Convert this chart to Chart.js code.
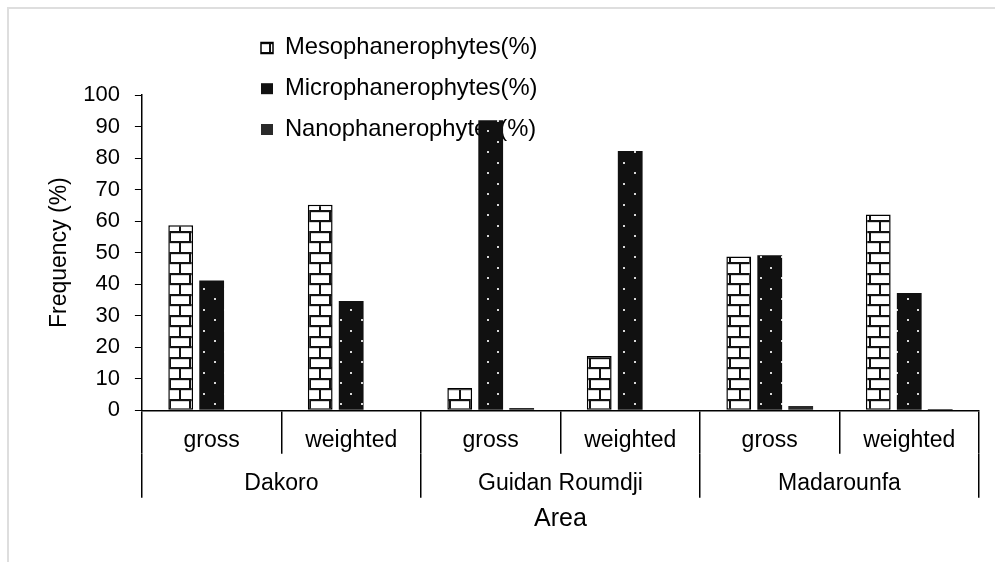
<html>
  <head>
    <script src="https://cdn.jsdelivr.net/npm/chart.js@4.4.1/dist/chart.umd.min.js"></script>
    <style>
      body { margin: 0; background: #fff; overflow: hidden; }
      #wrap { position: relative; width: 995px; height: 562px; }
    </style>
  </head>
  <body>
    <div id="wrap">
      <canvas id="myChart"></canvas>
    </div>
  </body>
  <script>
    const groups = ['Dakoro', 'Guidan Roumdji', 'Madarounfa'];
    const subLabels = ['gross', 'weighted', 'gross', 'weighted', 'gross', 'weighted'];
    const meso = [58.7, 65.2, 7.1, 17.2, 48.8, 62.1];
    const micro = [41.2, 34.7, 92.0, 82.2, 49.2, 37.2];
    const nano = [0, 0, 0.7, 0, 1.4, 0.4];
    const yTicks = [0, 10, 20, 30, 40, 50, 60, 70, 80, 90, 100];

    // brick pattern for meso, dotted black for micro
    function brickPattern() {
      const c = document.createElement('canvas');
      c.width = 20; c.height = 21;
      const g = c.getContext('2d');
      g.fillStyle = '#fff'; g.fillRect(0, 0, 20, 21);
      g.fillStyle = '#d4d4d4';
      g.fillRect(0, 2, 20, 1); g.fillRect(0, 12, 20, 1);
      g.fillStyle = '#111';
      g.fillRect(0, 0, 20, 2);
      g.fillRect(0, 10, 20, 2);
      g.fillRect(9, 0, 2, 10);
      g.fillRect(0, 10, 1, 11); g.fillRect(19, 10, 1, 11);
      return g.createPattern(c, 'repeat');
    }
    function dotPattern() {
      const c = document.createElement('canvas');
      c.width = 21; c.height = 21;
      const g = c.getContext('2d');
      g.fillStyle = '#111'; g.fillRect(0, 0, 21, 21);
      g.fillStyle = '#d8d8d8';
      g.fillRect(4, 4, 2, 2);
      g.fillRect(14, 15, 2, 2);
      return g.createPattern(c, 'repeat');
    }

    // thin grey frame on the top and left edges, drawn under everything
    const frame = {
      id: 'frame',
      beforeDraw(chart) {
        const c = chart.ctx;
        c.save();
        c.beginPath();
        c.strokeStyle = '#dedede';
        c.lineWidth = 2;
        c.moveTo(8, chart.height);
        c.lineTo(8, 8);
        c.lineTo(chart.width, 8);
        c.stroke();
        c.beginPath();
        c.restore();
      }
    };

    // the legend is laid out as a 1px wide column, then moved to the upper middle
    const legendSpot = {
      id: 'legendSpot',
      beforeDraw(chart) {
        const lg = chart.legend;
        lg.left = 244; lg.top = 19;
        lg.right = 760; lg.bottom = 230;
        lg.width = lg.right - lg.left; lg.height = lg.bottom - lg.top;
      }
    };

    const font = 'Liberation Sans, Arial, sans-serif';
    Chart.defaults.font.family = font;
    Chart.defaults.color = '#000';

    var ctx = document.getElementById('myChart').getContext('2d');
    var myChart = new Chart(ctx, {
      type: 'bar',
      data: {
        labels: subLabels,
        datasets: [{
          label: 'Mesophanerophytes(%)',
          data: meso,
          backgroundColor: brickPattern(),
          borderColor: '#000',
          borderWidth: 1.5,
          borderSkipped: false
        }, {
          label: 'Microphanerophytes(%)',
          data: micro,
          backgroundColor: dotPattern(),
          borderWidth: 0
        }, {
          label: 'Nanophanerophytes(%)',
          data: nano,
          backgroundColor: '#2a2a2a',
          borderWidth: 0
        }]
      },
      options: {
        responsive: true,
        maintainAspectRatio: false,
        animation: false,
        layout: { padding: { left: 44.6, right: 16, top: 95, bottom: 27.6 } },
        datasets: { bar: { categoryPercentage: 0.666, barPercentage: 0.8 } },
        plugins: {
          tooltip: { enabled: false },
          legend: {
            position: 'left',
            align: 'start',
            maxWidth: 1,
            labels: { boxWidth: 12, boxHeight: 11, padding: 17, font: { size: 23.8 }, color: '#000' }
          }
        },
        scales: {
          x: {
            offset: true,
            grid: { drawOnChartArea: false, offset: true, tickLength: 43.5, color: '#000', lineWidth: 1.5 },
            border: { color: '#000', width: 1.5 },
            ticks: { font: { size: 23 }, padding: -27.1, maxRotation: 0, autoSkip: false },
            // empty title only keeps the box tall enough so the labels are not clipped
            title: { display: true, text: '', font: { size: 12 }, padding: { top: 12.2, bottom: 0 } }
          },
          x2: {
            type: 'category',
            labels: groups,
            position: 'bottom',
            offset: true,
            grid: { drawOnChartArea: false, offset: true, tickLength: 44, color: '#000', lineWidth: 1.5 },
            border: { display: false },
            ticks: { font: { size: 23 }, padding: -27.8, maxRotation: 0, autoSkip: false },
            title: { display: true, text: 'Area', font: { size: 25 }, padding: { top: 34.6, bottom: 0 } }
          },
          y: {
            min: 0,
            max: 100,
            afterBuildTicks: (axis) => { axis.ticks = yTicks.map(v => ({ value: v })); },
            grid: { drawOnChartArea: false, tickLength: 7, color: '#000', lineWidth: 1 },
            border: { color: '#000', width: 1.5 },
            ticks: { font: { size: 22 }, padding: 15 },
            title: { display: true, text: 'Frequency (%)', font: { size: 23 }, padding: { top: 0, bottom: -5 } }
          }
        }
      },
      plugins: [frame, legendSpot]
    });
  </script>
</html>
